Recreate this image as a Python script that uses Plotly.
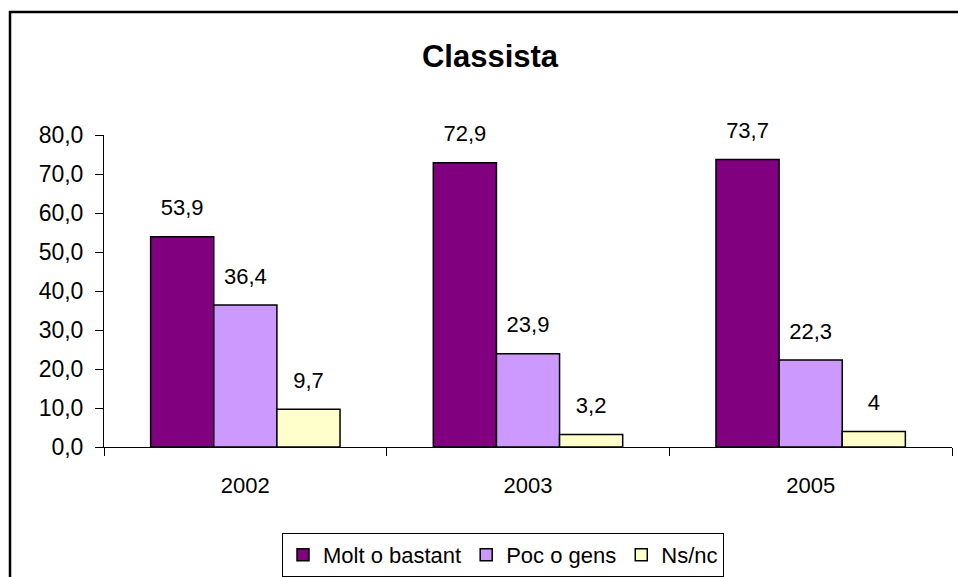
import plotly.graph_objects as go

years = ["2002", "2003", "2005"]
series_names = ["Molt o bastant", "Poc o gens", "Ns/nc"]
molt_o_bastant = [53.9, 72.9, 73.7]
poc_o_gens = [36.4, 23.9, 22.3]
ns_nc = [9.7, 3.2, 4]
colors = ["#800080", "#CC99FF", "#FFFFCC"]

y_ticks = [0, 10, 20, 30, 40, 50, 60, 70, 80]

FONT = "Liberation Sans, Arial, sans-serif"
FS = 22


def fmt(v):
    return format(v, "g").replace(".", ",")


fig = go.Figure()
all_series = [molt_o_bastant, poc_o_gens, ns_nc]
for name, vals, col in zip(series_names, all_series, colors):
    fig.add_trace(go.Bar(
        x=years, y=vals, name=name, offsetgroup=name,
        marker=dict(color=col, line=dict(color="#000000", width=1.5)),
        hoverinfo="skip",
    ))
for name, vals in zip(series_names, all_series):
    fig.add_trace(go.Scatter(
        x=years, y=vals, mode="markers+text", offsetgroup=name,
        text=[fmt(v) for v in vals], textposition="top center",
        marker=dict(size=24, opacity=0),
        textfont=dict(family=FONT, size=FS, color="#000000"),
        showlegend=False, hoverinfo="skip", cliponaxis=False,
    ))

# geometry of plot area in pixels
L, R, T, B = 104, 952, 135, 447
W, H = 958, 577
pw, ph = R - L, B - T


def px(x):
    return (x - L) / pw


def py(y):
    return (B - y) / ph


border_path = "M {x0},{y0} L {x0},{y1} L {x2},{y1}".format(
    x0=px(10), y0=py(H), y1=py(12), x2=px(W))

fig.update_layout(
    width=W, height=H,
    margin=dict(l=L, r=W - R, t=T, b=H - B, pad=0),
    paper_bgcolor="white", plot_bgcolor="white",
    barmode="group", bargap=0.33, bargroupgap=0,
    scattermode="group", scattergap=0.33,
    separators=",.",
    font=dict(family=FONT, size=FS, color="#000000"),
    title=dict(text="<b>Classista</b>", x=490 / W, xanchor="center",
               y=1 - 56 / H, yanchor="middle",
               font=dict(family=FONT, size=31, color="#000000")),
    xaxis=dict(type="category", showline=True, linecolor="#000000", linewidth=1,
               ticks="outside", tickson="boundaries", ticklen=8, tickcolor="#000000",
               showgrid=False, zeroline=False, ticklabelstandoff=19,
               tickfont=dict(family=FONT, size=FS, color="#000000")),
    yaxis=dict(range=[0, 80], tickvals=y_ticks, tickformat=".1f",
               showline=True, linecolor="#000000", linewidth=1,
               ticks="outside", ticklen=8, tickcolor="#000000",
               showgrid=False, zeroline=False, ticklabelstandoff=7,
               tickfont=dict(family=FONT, size=23, color="#000000")),
    legend=dict(orientation="h", xref="container", yref="container",
                x=282 / W, xanchor="left", y=1 - 533 / H, yanchor="top",
                bordercolor="#000000", borderwidth=1, bgcolor="white",
                font=dict(family=FONT, size=FS, color="#000000"),
                traceorder="normal", itemwidth=30),
    shapes=[dict(type="path", xref="paper", yref="paper", path=border_path,
                 line=dict(color="#000000", width=2.5), layer="below")],
)

fig.write_html(
    "out.html",
    config={"displayModeBar": False},
    post_script="document.body.style.margin='0';document.body.style.padding='0';"
                "document.body.style.overflow='hidden';"
                "document.documentElement.style.overflow='hidden';",
)
